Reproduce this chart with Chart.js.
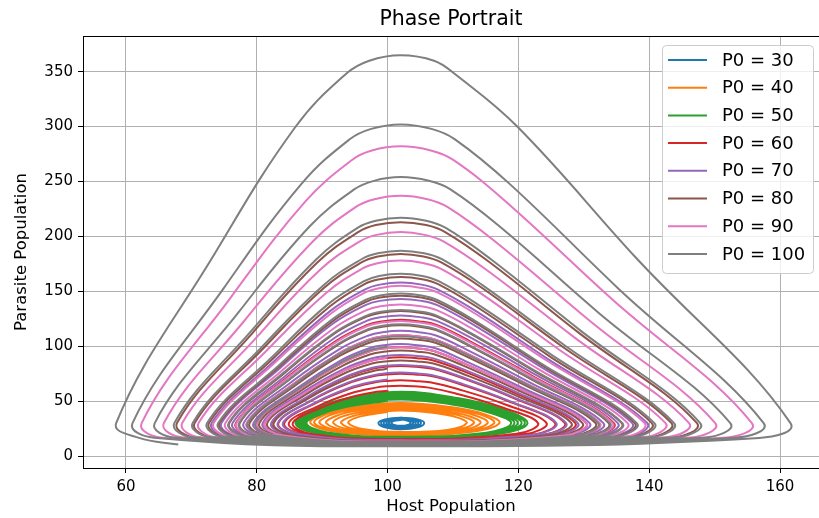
<!DOCTYPE html>
<html>
<head>
<meta charset="utf-8">
<title>Phase Portrait</title>
<script src="https://cdn.jsdelivr.net/npm/chart.js@4.4.0/dist/chart.umd.min.js"></script>
<style>
    body { margin: 0; background: #fff; }
    canvas { display: block; }
</style>
</head>
<body>
<canvas id="graficoFase" width="819" height="518"></canvas>
<script>
const xTicks = [60, 80, 100, 120, 140, 160]
const yTicks = [0, 50, 100, 150, 200, 250, 300, 350]
const legendas = ['P0 = 30', 'P0 = 40', 'P0 = 50', 'P0 = 60', 'P0 = 70', 'P0 = 80', 'P0 = 90', 'P0 = 100']

// trajectories as [host, parasite], one half turn per line
const p0_30 = [
    [102, 32.8], [101.0, 32.0], [100.6, 30.1], [101.0, 28.3], [102, 27.5], [103.1, 28.3], [103.5, 30.1], [103.1, 32.0],
    [102, 33.2], [100.7, 32.3], [100.2, 30.1], [100.7, 27.8], [102, 26.9], [103.4, 27.8], [103.9, 30.1], [103.4, 32.3],
    [102, 33.6], [100.4, 32.6], [99.8, 30.1], [100.4, 27.3], [102, 26.2], [103.7, 27.3], [104.3, 30.1], [103.7, 32.6],
    [102, 34.0], [100.2, 32.9], [99.4, 30.1], [100.2, 26.9], [102, 25.6], [103.9, 26.9], [104.7, 30.1], [103.9, 32.9],
    [102, 34.4], [99.9, 33.2], [99.0, 30.1], [99.9, 26.5], [102, 25.0], [104.2, 26.5], [105.1, 30.1], [104.2, 33.2],
    [102, 34.8], [99.6, 33.4], [98.6, 30.1], [99.6, 26.1], [102, 24.4], [104.6, 26.1], [105.6, 30.1], [104.6, 33.4], [102, 34.9]
]

const p0_40 = [
    [100, 40],
    [97.6, 38], [95.0, 34.5], [94, 30], [96.4, 24.4], [101.5, 22], [109.1, 23.8], [112.1, 30], [110.6, 35.2], [107.1, 39.2], [102, 41.5],
    [97.0, 39.2], [94.1, 35.2], [92.9, 30], [95.6, 23.8], [101.5, 21.2], [109.8, 23.4], [113.2, 30], [111.5, 35.9], [107.6, 40.4], [102, 43],
    [96.3, 40.4], [93.0, 35.9], [91.7, 30], [94.8, 23.4], [101.5, 20.6], [110.5, 22.9], [114.2, 30], [112.4, 36.5], [108.1, 41.6], [102, 44.5],
    [95.7, 41.6], [92.1, 36.5], [90.6, 30], [94.0, 22.9], [101.5, 19.9], [111.3, 22.5], [115.3, 30], [113.3, 37.2], [108.7, 42.8], [102, 46],
    [95.2, 42.8], [91.2, 37.2], [89.6, 30], [93.3, 22.5], [101.5, 19.3], [112, 22.2], [116.3, 30], [114.2, 37.7], [109.2, 43.8], [102, 47.2],
    [94.7, 43.8], [90.5, 37.7], [88.8, 30], [92.8, 22.2], [101.5, 18.8], [112.6, 21.9], [117.1, 30], [114.8, 38.2], [109.6, 44.6], [102, 48.3],
    [94.4, 44.6], [90.0, 38.2], [88.2, 30], [92.3, 21.9], [101.5, 18.4]
]

const p0_50 = [
    [100, 50],
    [94.8, 46], [90.2, 39], [87.6, 30], [90.8, 21.5], [101.5, 17.5], [115.1, 21.3], [118.9, 30], [115.5, 39.7], [109.6, 47.2], [102, 51.5],
    [94.7, 47.2], [90.0, 39.7], [87.3, 30], [90.5, 21.3], [101.5, 17.2], [115.6, 21.1], [119.4, 30], [115.9, 40.4], [109.8, 48.4], [102, 53],
    [94.5, 48.4], [89.7, 40.4], [87.0, 30], [90.3, 21.1], [101.5, 16.9], [116.0, 20.9], [119.9, 30], [116.3, 41.0], [110.1, 49.6], [102, 54.5],
    [94.4, 49.6], [89.5, 41.0], [86.7, 30], [90.1, 20.9], [101.5, 16.6], [116.4, 20.7], [120.5, 30], [116.8, 41.7], [110.3, 50.8], [102, 56],
    [94.2, 50.8], [89.2, 41.7], [86.4, 30], [89.8, 20.7], [101.5, 16.3], [116.8, 20.5], [121.0, 30], [117.2, 42.3], [110.6, 51.8], [102, 57.3],
    [94.1, 51.8], [89.0, 42.3], [86.1, 30], [89.6, 20.5], [101.5, 16.0], [117.1, 20.3], [121.4, 30], [117.5, 42.8], [110.7, 52.8], [102, 58.5],
    [94.0, 52.8], [88.8, 42.8], [85.9, 30], [89.4, 20.3], [101.5, 15.8]
]

const p0_60 = [
    [100, 60],
    [100.0, 59.55], [98.3, 58.5], [94.6, 54], [89.6, 43.5], [85.5, 30], [88.1, 20.4], [101, 15.5],
    [119.7, 20.2], [123, 30], [117.0, 45.3], [110.3, 57.2], [106.3, 62.3], [104.0, 63.5], [102, 64],
    [99.9, 63.5], [98.2, 62.3], [94.4, 57.2], [89.3, 45.3], [84.9, 30], [87.6, 20.2], [101, 15.1],
    [120.9, 19.8], [124.3, 30], [117.7, 47.6], [110.6, 61.2], [106.5, 67.1], [104.1, 68.4], [102, 69],
    [99.9, 68.4], [98.1, 67.1], [94.2, 61.2], [88.8, 47.6], [84.2, 30], [86.9, 19.8], [101, 14.6],
    [122.2, 19.4], [125.6, 30], [118.3, 50.3], [110.8, 66], [106.7, 72.8], [104.2, 74.3], [102, 75],
    [99.8, 74.3], [97.9, 72.8], [93.9, 66], [88.3, 50.3], [83.3, 30], [86.0, 19.4], [101, 14],
    [123.6, 19.2], [127.1, 30], [119.0, 53.4], [111.1, 71.6], [106.9, 79.4], [104.4, 81.2], [102, 82],
    [99.6, 81.2], [97.7, 79.4], [93.7, 71.6], [87.8, 53.4], [82.3, 30], [85.0, 19.2], [101, 13.6],
    [125.2, 18.9], [128.7, 30], [119.6, 57], [111.3, 78], [107.0, 87], [104.5, 89.1], [102, 90],
    [99.5, 89.1], [97.6, 87], [93.4, 78], [87.2, 57], [81.2, 30], [83.9, 18.9], [101, 13.2],
    [127.0, 18.6], [130.4, 30], [120.2, 61.1], [111.4, 85.2], [107.1, 95.6], [104.7, 98.0], [102, 99],
    [99.4, 98.0], [97.4, 95.6], [93.2, 85.2], [86.6, 61.1], [80.0, 30], [82.7, 18.6], [101, 12.8],
    [129.0, 18.4], [132.4, 30], [121.2, 66], [111.9, 94], [107.3, 106], [104.7, 108.8], [102, 110],
    [99.3, 108.8], [97.1, 106], [92.7, 94], [85.7, 66], [78.5, 30], [81.2, 18.4], [101, 12.4],
    [131.2, 18.1], [134.6, 30], [122.3, 72.3], [112.4, 105.2], [107.5, 119.3], [104.9, 122.6], [102, 124],
    [99.1, 122.6], [96.9, 119.3], [92.2, 105.2], [84.8, 72.3], [76.8, 30], [79.4, 18.1], [101, 12.0]
]

const p0_70 = [
    [100, 70],
    [99.8, 69.4], [98.0, 68], [94.1, 62], [88.7, 48], [84.0, 30], [86.7, 19.8], [101, 14.5],
    [122.4, 19.4], [125.8, 30], [118.4, 50.7], [110.9, 66.8], [106.7, 73.7], [104.3, 75.3], [102, 76],
    [99.7, 75.3], [97.9, 73.7], [93.9, 66.8], [88.3, 50.7], [83.2, 30], [85.9, 19.4], [101, 14],
    [123.8, 19.1], [127.3, 30], [119.1, 53.9], [111.1, 72.4], [106.9, 80.4], [104.4, 82.2], [102, 83],
    [99.6, 82.2], [97.7, 80.4], [93.7, 72.4], [87.7, 53.9], [82.2, 30], [84.9, 19.1], [101, 13.5],
    [125.6, 18.8], [129.1, 30], [119.8, 57.9], [111.3, 79.6], [107.0, 88.9], [104.6, 91.1], [102, 92],
    [99.5, 91.1], [97.5, 88.9], [93.4, 79.6], [87.0, 57.9], [80.9, 30], [83.6, 18.8], [101, 13.1],
    [127.5, 18.6], [130.9, 30], [120.5, 62.4], [111.5, 87.6], [107.2, 98.4], [104.6, 100.9], [102, 102],
    [99.4, 100.9], [97.3, 98.4], [93.0, 87.6], [86.3, 62.4], [79.5, 30], [82.2, 18.6], [101, 12.7],
    [129.6, 18.3], [133.0, 30], [121.5, 67.8], [112.0, 97.2], [107.4, 109.8], [104.8, 112.7], [102, 114],
    [99.2, 112.7], [97.1, 109.8], [92.6, 97.2], [85.4, 67.8], [78.0, 30], [80.6, 18.3], [101, 12.3],
    [131.9, 18.1], [135.2, 30], [122.6, 74.1], [112.5, 108.4], [107.5, 123.1], [105.0, 126.5], [102, 128],
    [99.0, 126.5], [96.8, 123.1], [92.1, 108.4], [84.6, 74.1], [76.3, 30], [78.9, 18.1], [101, 11.9],
    [134.2, 17.9], [137.4, 30], [123.5, 80.9], [112.9, 120.4], [107.6, 137.4], [105.2, 141.3], [102, 143],
    [98.8, 141.3], [96.6, 137.4], [91.6, 120.4], [83.7, 80.9], [74.6, 30], [77.1, 17.9], [101, 11.6],
    [136.7, 17.6], [139.7, 30], [124.7, 87.6], [113.4, 132.4], [107.7, 151.6], [105.2, 156.1], [102, 158],
    [98.8, 156.1], [96.5, 151.6], [91.3, 132.4], [82.9, 87.6], [73.1, 30], [75.4, 17.6], [101, 11.2]
]

const p0_80 = [
    [100, 80],
    [99.7, 79.25], [97.8, 77.5], [93.8, 70], [87.9, 52.5], [82.6, 30], [85.3, 19.2], [101, 13.7],
    [124.6, 19.0], [128.1, 30], [119.4, 55.7], [111.2, 75.6], [107.0, 84.2], [104.5, 86.1], [102, 87],
    [99.6, 86.1], [97.6, 84.2], [93.5, 75.6], [87.4, 55.7], [81.6, 30], [84.3, 19.0], [101, 13.4],
    [126.4, 18.7], [129.8, 30], [120.0, 59.7], [111.4, 82.8], [107.1, 92.7], [104.6, 95.0], [102, 96],
    [99.4, 95.0], [97.4, 92.7], [93.3, 82.8], [86.8, 59.7], [80.4, 30], [83.1, 18.7], [101, 12.9],
    [128.4, 18.5], [131.8, 30], [120.9, 64.7], [111.7, 91.6], [107.3, 103.2], [104.7, 105.8], [102, 107],
    [99.3, 105.8], [97.2, 103.2], [92.8, 91.6], [86.0, 64.7], [78.9, 30], [81.6, 18.5], [101, 12.5],
    [130.4, 18.2], [133.8, 30], [121.9, 70.1], [112.2, 101.2], [107.4, 114.6], [104.9, 117.7], [102, 119],
    [99.2, 117.7], [97.0, 114.6], [92.4, 101.2], [85.1, 70.1], [77.4, 30], [80.0, 18.2], [101, 12.1],
    [132.5, 18.0], [135.8, 30], [122.8, 75.9], [112.6, 111.6], [107.5, 126.9], [105.0, 130.5], [102, 132],
    [99.0, 130.5], [96.8, 126.9], [91.9, 111.6], [84.3, 75.9], [75.8, 30], [78.4, 18.0], [101, 11.8],
    [134.6, 17.8], [137.8, 30], [123.7, 82.2], [113.0, 122.8], [107.6, 140.2], [105.2, 144.3], [102, 146],
    [98.8, 144.3], [96.6, 140.2], [91.6, 122.8], [83.6, 82.2], [74.3, 30], [76.8, 17.8], [101, 11.5],
    [137.3, 17.5], [140.4, 30], [125.0, 89.9], [113.5, 136.4], [107.8, 156.4], [105.3, 161.0], [102, 163],
    [98.8, 161.0], [96.4, 156.4], [91.2, 136.4], [82.7, 89.9], [72.7, 30], [75.0, 17.5], [101, 11.1],
    [140.1, 17.3], [143.4, 30], [126.8, 99.3], [114.4, 153.2], [108.2, 176.3], [105.5, 181.7], [102, 184],
    [98.5, 181.7], [96.0, 176.3], [90.3, 153.2], [81.2, 99.3], [70.5, 30], [73.0, 17.3], [101, 10.8],
    [143.7, 17.1], [147.3, 30], [129.2, 112.4], [115.6, 176.4], [108.8, 203.9], [105.9, 210.3], [102, 213],
    [98.2, 210.3], [95.5, 203.9], [89.3, 176.4], [79.4, 112.4], [67.8, 30], [70.5, 17.1], [101, 10.4]
]

const p0_90 = [
    [100, 90],
    [99.5, 89.1], [97.6, 87], [93.4, 78], [87.2, 57], [81.2, 30], [83.9, 18.9], [101, 13.2],
    [127.0, 18.6], [130.4, 30], [120.2, 61.1], [111.4, 85.2], [107.1, 95.6], [104.7, 98.0], [102, 99],
    [99.4, 98.0], [97.4, 95.6], [93.2, 85.2], [86.6, 61.1], [80.0, 30], [82.7, 18.6], [101, 12.8],
    [129.0, 18.4], [132.4, 30], [121.2, 66], [111.9, 94], [107.3, 106], [104.7, 108.8], [102, 110],
    [99.3, 108.8], [97.1, 106], [92.7, 94], [85.7, 66], [78.5, 30], [81.2, 18.4], [101, 12.4],
    [131.0, 18.1], [134.4, 30], [122.2, 71.9], [112.3, 104.4], [107.5, 118.4], [104.9, 121.6], [102, 123],
    [99.1, 121.6], [96.9, 118.4], [92.3, 104.4], [84.9, 71.9], [76.9, 30], [79.5, 18.1], [101, 12.0],
    [133.4, 17.9], [136.7, 30], [123.2, 78.6], [112.8, 116.4], [107.6, 132.6], [105.1, 136.4], [102, 138],
    [98.9, 136.4], [96.7, 132.6], [91.8, 116.4], [84.0, 78.6], [75.2, 30], [77.7, 17.9], [101, 11.7],
    [136.2, 17.7], [139.3, 30], [124.5, 86.3], [113.3, 130], [107.7, 148.8], [105.2, 153.1], [102, 155],
    [98.9, 153.1], [96.5, 148.8], [91.4, 130], [83.0, 86.3], [73.4, 30], [75.8, 17.7], [101, 11.3],
    [139.3, 17.4], [142.5, 30], [126.3, 96.6], [114.2, 148.4], [108.1, 170.6], [105.4, 175.8], [102, 178],
    [98.6, 175.8], [96.1, 170.6], [90.6, 148.4], [81.6, 96.6], [71.1, 30], [73.6, 17.4], [101, 10.9],
    [142.6, 17.1], [146.1, 30], [128.5, 108.3], [115.2, 169.2], [108.6, 195.3], [105.7, 201.4], [102, 204],
    [98.3, 201.4], [95.7, 195.3], [89.6, 169.2], [80.0, 108.3], [68.6, 30], [71.3, 17.1], [101, 10.5],
    [146.3, 16.9], [150.1, 30], [130.9, 123.2], [116.4, 195.6], [109.2, 226.7], [106.1, 233.9], [102, 237],
    [98.0, 233.9], [95.1, 226.7], [88.6, 195.6], [78.1, 123.2], [65.8, 30], [68.7, 16.9], [101, 10.1],
    [151.4, 16.7], [155.7, 30], [134.2, 143.4], [118.1, 231.6], [110.1, 269.4], [106.6, 278.2], [102, 282],
    [97.6, 278.2], [94.5, 269.4], [87.4, 231.6], [75.9, 143.4], [62.4, 30], [65.6, 16.7], [101, 9.6]
]

const p0_100 = [
    [100, 100],
    [99.4, 98.95], [97.3, 96.5], [93.1, 86], [86.5, 61.5], [79.8, 30], [82.5, 18.6], [101, 12.8],
    [128.8, 18.5], [132.2, 30], [121.1, 65.6], [111.8, 93.2], [107.3, 105.1], [104.7, 107.8], [102, 109],
    [99.3, 107.8], [97.2, 105.1], [92.7, 93.2], [85.8, 65.6], [78.6, 30], [81.2, 18.5], [101, 12.5],
    [130.6, 18.2], [134.0, 30], [122.0, 70.5], [112.2, 102], [107.4, 115.5], [104.9, 118.65], [102, 120],
    [99.2, 118.65], [97.0, 115.5], [92.4, 102], [85.1, 70.5], [77.3, 30], [79.9, 18.2], [101, 12.1],
    [132.6, 18.0], [135.9, 30], [122.9, 76.4], [112.6, 112.4], [107.5, 127.9], [105.1, 131.5], [102, 133],
    [99.0, 131.5], [96.8, 127.9], [91.9, 112.4], [84.2, 76.4], [75.7, 30], [78.3, 18.0], [101, 11.8],
    [134.9, 17.8], [138.1, 30], [123.8, 83.1], [113.0, 124.4], [107.6, 142.1], [105.2, 146.2], [102, 148],
    [98.8, 146.2], [96.6, 142.1], [91.5, 124.4], [83.5, 83.1], [74.1, 30], [76.6, 17.8], [101, 11.5],
    [137.7, 17.5], [140.8, 30], [125.3, 91.2], [113.6, 138.8], [107.8, 159.2], [105.3, 164.0], [102, 166],
    [98.7, 164.0], [96.4, 159.2], [91.0, 138.8], [82.5, 91.2], [72.4, 30], [74.8, 17.5], [101, 11.1],
    [140.5, 17.3], [143.8, 30], [127.1, 100.7], [114.5, 155.6], [108.3, 179.2], [105.6, 184.6], [102, 187],
    [98.5, 184.6], [96.0, 179.2], [90.2, 155.6], [81.0, 100.7], [70.2, 30], [72.7, 17.3], [101, 10.8],
    [144.1, 17.0], [147.8, 30], [129.5, 114.2], [115.7, 179.6], [108.9, 207.7], [105.9, 214.2], [102, 217],
    [98.2, 214.2], [95.4, 207.7], [89.2, 179.6], [79.2, 114.2], [67.4, 30], [70.2, 17.0], [101, 10.0],
    [148.4, 16.8], [152.4, 30], [132.2, 130.8], [117.1, 209.2], [109.6, 242.8], [106.3, 250.6], [102, 254],
    [97.9, 250.6], [94.9, 242.8], [88.1, 209.2], [77.2, 130.8], [64.4, 30], [67.4, 16.8], [101, 9.4],
    [153.1, 16.7], [157.5, 30], [135.3, 152.4], [118.7, 247.6], [110.3, 288.4], [106.7, 297.9], [102, 302],
    [97.5, 297.9], [94.2, 288.4], [86.8, 247.6], [74.9, 152.4], [61.0, 30], [64.3, 16.7], [101, 8.8],
    [156.8, 16.5], [161.6, 30], [137.8, 181.7], [119.9, 299.6], [110.2, 348.3], [107.1, 360.0], [102, 365],
    [97.2, 360.0], [93.7, 348.3], [85.9, 299.6], [73.3, 181.7], [58.5, 30], [62.0, 16.5], [68, 10.5]
]

const trajetorias = [p0_30, p0_40, p0_50, p0_60, p0_70, p0_80, p0_90, p0_100]
const cores = ['#1f77b4', '#ff7f0e', '#2ca02c', '#d62728', '#9467bd', '#8c564b', '#e377c2', '#7f7f7f']

Chart.defaults.font.family = "'DejaVu Sans', sans-serif"
Chart.defaults.color = '#000'

// top spine + matplotlib style legend box
const molduraPlugin = {
    id: 'moldura',
    afterDraw: function (chart) {
        const ctx = chart.ctx
        const area = chart.chartArea
        ctx.save()
        ctx.strokeStyle = '#000'
        ctx.lineWidth = 1
        ctx.beginPath()
        ctx.moveTo(area.left, area.top + 0.5)
        ctx.lineTo(area.right, area.top + 0.5)
        ctx.stroke()

        let x0 = 662.5, y0 = 45.5, w = 151, h = 228, r = 4
        ctx.beginPath()
        ctx.moveTo(x0 + r, y0)
        ctx.arcTo(x0 + w, y0, x0 + w, y0 + h, r)
        ctx.arcTo(x0 + w, y0 + h, x0, y0 + h, r)
        ctx.arcTo(x0, y0 + h, x0, y0, r)
        ctx.arcTo(x0, y0, x0 + w, y0, r)
        ctx.closePath()
        ctx.fillStyle = 'rgba(255,255,255,0.8)'
        ctx.fill()
        ctx.strokeStyle = '#cccccc'
        ctx.stroke()

        ctx.font = "18px 'DejaVu Sans'"
        ctx.textBaseline = 'middle'
        for (let i = 0; i < legendas.length; i++) {
            let y = 60 + i * 27.7
            ctx.strokeStyle = cores[i]
            ctx.lineWidth = 2
            ctx.beginPath()
            ctx.moveTo(668, y)
            ctx.lineTo(707, y)
            ctx.stroke()
            ctx.fillStyle = '#000'
            ctx.fillText(legendas[i], 722, y + 1)
        }
        ctx.restore()
    }
}

function desenharGrafico() {
    let datasets = []
    for (let i = 0; i < trajetorias.length; i++) {
        datasets.push({
            label: legendas[i],
            data: trajetorias[i],
            borderColor: cores[i],
            backgroundColor: cores[i],
            borderWidth: 2,
            pointRadius: 0,
            tension: 0.4,
            showLine: true,
            fill: false,
            order: trajetorias.length - i
        })
    }

    new Chart(document.getElementById('graficoFase'), {
        type: 'scatter',
        data: { datasets: datasets },
        options: {
            responsive: false,
            animation: false,
            devicePixelRatio: 1,
            layout: { padding: 0 },
            plugins: {
                legend: { display: false },
                tooltip: { enabled: false },
                title: {
                    display: true,
                    text: 'Phase Portrait',
                    fullSize: false,
                    color: '#000',
                    font: { size: 20.5, weight: 'normal' },
                    padding: { top: 7, bottom: 4.4 }
                }
            },
            scales: {
                x: {
                    type: 'linear',
                    min: 53.43,
                    max: 165.96,
                    afterBuildTicks: function (axis) {
                        axis.ticks = xTicks.map(v => ({ value: v }))
                    },
                    afterFit: function (axis) { axis.height = 50 },
                    grid: { color: '#b0b0b0', lineWidth: 1, tickLength: 5, tickColor: '#000', tickWidth: 1 },
                    border: { color: '#000', width: 1 },
                    ticks: { color: '#000', font: { size: 15 }, padding: 5, maxRotation: 0 },
                    title: { display: true, text: 'Host Population', color: '#000', font: { size: 16.5 }, padding: { top: 0, bottom: 1 } }
                },
                y: {
                    type: 'linear',
                    min: -10.9,
                    max: 382.5,
                    afterBuildTicks: function (axis) {
                        axis.ticks = yTicks.map(v => ({ value: v }))
                    },
                    afterFit: function (axis) { axis.width = 83 },
                    grid: { color: '#b0b0b0', lineWidth: 1, tickLength: 5, tickColor: '#000', tickWidth: 1 },
                    border: { color: '#000', width: 1 },
                    ticks: { color: '#000', font: { size: 15 }, padding: 5 },
                    title: { display: true, text: 'Parasite Population', color: '#000', font: { size: 16.5 }, padding: { top: 12, bottom: 0 } }
                }
            }
        },
        plugins: [molduraPlugin]
    })
}
desenharGrafico()
</script>
</body>
</html>
